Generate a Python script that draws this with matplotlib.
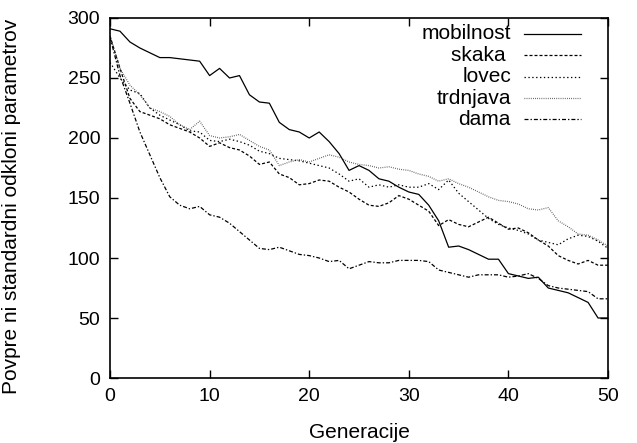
import matplotlib
matplotlib.use('Agg')
import matplotlib.pyplot as plt

plt.rcParams['font.family'] = ['Liberation Sans', 'DejaVu Sans']

# generacije 0..50
generacije = list(range(51))

mobilnost = [291, 289, 280, 275, 271, 267, 267, 266, 265, 264,
             252, 258, 250, 252, 236, 230, 229, 213, 207, 205,
             200, 205, 197, 187, 173, 177, 173, 166, 164, 159,
             155, 153, 144, 131, 109, 110, 107, 103, 99, 99,
             87, 85, 83, 84, 75, 73, 71, 67, 63, 50, 50]
skaka = [285, 258, 233, 222, 219, 216, 211, 208, 205, 200,
         193, 196, 192, 190, 185, 178, 180, 170, 167, 161,
         162, 165, 164, 159, 155, 149, 144, 143, 146, 152,
         149, 144, 139, 127, 132, 128, 126, 130, 134, 129,
         124, 125, 121, 115, 110, 102, 98, 95, 98, 94, 94]
lovec = [263, 250, 240, 237, 225, 219, 215, 211, 206, 205,
         198, 197, 199, 197, 194, 189, 187, 183, 182, 181,
         179, 177, 175, 170, 164, 166, 159, 161, 159, 161,
         159, 159, 162, 157, 165, 154, 147, 140, 133, 128,
         125, 123, 120, 115, 113, 111, 116, 119, 118, 114, 108]
trdnjava = [285, 258, 244, 236, 225, 222, 218, 211, 207, 214,
            202, 200, 201, 203, 198, 193, 190, 177, 180, 182,
            180, 183, 186, 184, 180, 178, 177, 175, 176, 174,
            173, 170, 168, 164, 166, 162, 159, 155, 151, 148,
            147, 145, 141, 140, 142, 131, 126, 120, 119, 115, 110]
dama = [284, 252, 229, 205, 186, 167, 151, 144, 141, 143,
        136, 134, 129, 122, 115, 108, 107, 109, 106, 103,
        102, 100, 97, 98, 91, 94, 97, 96, 96, 98,
        98, 98, 97, 90, 88, 86, 84, 86, 86, 86,
        84, 85, 87, 83, 77, 75, 74, 73, 72, 66, 66]

labels = ['mobilnost', 'skaka ', 'lovec', 'trdnjava', 'dama']
series = [mobilnost, skaka, lovec, trdnjava, dama]

lw = 0.9
styles = [
    dict(color='black', linestyle='-'),
    dict(color='black', linestyle=(0, (2.4, 1.6))),
    dict(color='black', linestyle=(0, (1.1, 2.0))),
    dict(color='#444444', linestyle=(0, (0.6, 1.1))),
    dict(color='black', linestyle=(0, (3.2, 1.6, 1.1, 1.6))),
]

fig = plt.figure(figsize=(6.37, 4.43), dpi=100)
ax = fig.add_axes([0.1727, 0.1467, 0.7818, 0.8127])

for vals, st in zip(series, styles):
    ax.plot(generacije, vals, lw=lw, **st)

ax.set_xlim(0, 50)
ax.set_ylim(0, 300)
ax.set_xticks(range(0, 51, 10))
ax.set_yticks(range(0, 301, 50))
ax.tick_params(direction='in', length=6, width=1, top=True, right=True,
               labelsize=14, pad=7)
for sp in ax.spines.values():
    sp.set_linewidth(1.2)

ax.set_xlabel('Generacije', fontsize=15)
ax.xaxis.set_label_coords(0.5, -0.15)
ax.xaxis.label.set_va('center')
ax.set_ylabel('Povpre ni standardni odkloni parametrov', fontsize=15)
ax.yaxis.set_label_coords(-0.197, 0.478)
ax.yaxis.label.set_va('center')

# legenda: besedilo desno poravnano, vzorec crte desno od besedila
for i, (lab, st) in enumerate(zip(labels, styles)):
    y = 0.9556 - i * 0.0593
    ax.text(0.805, y, lab, transform=ax.transAxes, ha='right', va='center',
            fontsize=15)
    ax.plot([0.831, 0.946], [y, y], transform=ax.transAxes, lw=lw,
            clip_on=False, **st)

fig.savefig('out.png', dpi=100)
